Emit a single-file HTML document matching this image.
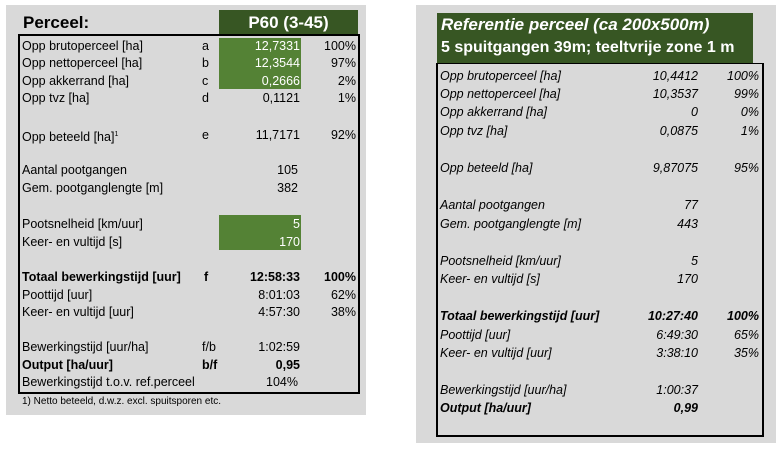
<!DOCTYPE html>
<html><head><meta charset="utf-8"><style>
body{margin:0;width:781px;height:449px;background:#fff;font-family:"Liberation Sans",sans-serif;position:relative;overflow:hidden;color:#000}
div{position:absolute}
.t{font-size:12.5px;line-height:14px;white-space:nowrap}
.r{text-align:right}
.b{font-weight:bold}
.i{font-style:italic}
.w{color:#fff}
</style></head><body>
<!-- LEFT -->
<div style="left:6px;top:5px;width:360px;height:410px;background:#d9d9d9"></div>
<div style="left:219px;top:10px;width:139px;height:25px;background:#375623"></div>
<div class="w b" style="left:219px;top:13px;width:139px;text-align:center;font-size:17px">P60 (3-45)</div>
<div class="b" style="left:23px;top:13px;font-size:17px">Perceel:</div>
<div style="left:219px;top:38px;width:82px;height:51px;background:#548235"></div>
<div style="left:219px;top:215px;width:82px;height:35px;background:#548235"></div>
<div style="left:18px;top:34px;width:338px;height:356px;border:2px solid #000"></div>

<div class="t" style="left:22px;top:39px">Opp brutoperceel [ha]</div><div class="t" style="left:202px;top:39px">a</div><div class="t r w" style="left:200px;width:100px;top:39px">12,7331</div><div class="t r" style="left:300px;width:56px;top:39px">100%</div>
<div class="t" style="left:22px;top:56px">Opp nettoperceel [ha]</div><div class="t" style="left:202px;top:56px">b</div><div class="t r w" style="left:200px;width:100px;top:56px">12,3544</div><div class="t r" style="left:300px;width:56px;top:56px">97%</div>
<div class="t" style="left:22px;top:74px">Opp akkerrand [ha]</div><div class="t" style="left:202px;top:74px">c</div><div class="t r w" style="left:200px;width:100px;top:74px">0,2666</div><div class="t r" style="left:300px;width:56px;top:74px">2%</div>
<div class="t" style="left:22px;top:91px">Opp tvz [ha]</div><div class="t" style="left:202px;top:91px">d</div><div class="t r" style="left:200px;width:100px;top:91px">0,1121</div><div class="t r" style="left:300px;width:56px;top:91px">1%</div>
<div class="t" style="left:22px;top:128px">Opp beteeld [ha]<sup style="font-size:7px">1</sup></div><div class="t" style="left:202px;top:128px">e</div><div class="t r" style="left:200px;width:100px;top:128px">11,7171</div><div class="t r" style="left:300px;width:56px;top:128px">92%</div>
<div class="t" style="left:22px;top:163px">Aantal pootgangen</div><div class="t r" style="left:200px;width:98px;top:163px">105</div>
<div class="t" style="left:22px;top:181px">Gem. pootganglengte [m]</div><div class="t r" style="left:200px;width:98px;top:181px">382</div>
<div class="t" style="left:22px;top:217px">Pootsnelheid [km/uur]</div><div class="t r w" style="left:200px;width:100px;top:217px">5</div>
<div class="t" style="left:22px;top:235px">Keer- en vultijd [s]</div><div class="t r w" style="left:200px;width:100px;top:235px">170</div>
<div class="t b" style="left:22px;top:270px">Totaal bewerkingstijd [uur]</div><div class="t b" style="left:204px;top:270px">f</div><div class="t r b" style="left:200px;width:100px;top:270px">12:58:33</div><div class="t r b" style="left:300px;width:56px;top:270px">100%</div>
<div class="t" style="left:22px;top:288px">Poottijd [uur]</div><div class="t r" style="left:200px;width:100px;top:288px">8:01:03</div><div class="t r" style="left:300px;width:56px;top:288px">62%</div>
<div class="t" style="left:22px;top:305px">Keer- en vultijd [uur]</div><div class="t r" style="left:200px;width:100px;top:305px">4:57:30</div><div class="t r" style="left:300px;width:56px;top:305px">38%</div>
<div class="t" style="left:22px;top:340px">Bewerkingstijd [uur/ha]</div><div class="t" style="left:202px;top:340px">f/b</div><div class="t r" style="left:200px;width:100px;top:340px">1:02:59</div>
<div class="t b" style="left:22px;top:358px">Output [ha/uur]</div><div class="t b" style="left:202px;top:358px">b/f</div><div class="t r b" style="left:200px;width:100px;top:358px">0,95</div>
<div class="t" style="left:22px;top:375px">Bewerkingstijd t.o.v. ref.perceel</div><div class="t r" style="left:200px;width:98px;top:375px">104%</div>
<div style="left:22px;top:396px;font-size:10px">1) Netto beteeld, d.w.z. excl. spuitsporen etc.</div>

<!-- RIGHT -->
<div style="left:416px;top:5px;width:360px;height:438px;background:#d9d9d9"></div>
<div style="left:437px;top:13px;width:316px;height:50px;background:#375623"></div>
<div class="w b i" style="left:441px;top:15px;font-size:17px">Referentie perceel (ca 200x500m)</div>
<div class="w b" style="left:441px;top:39px;font-size:16px">5 spuitgangen 39m; teeltvrije zone 1 m</div>
<div style="left:436px;top:63px;width:324px;height:371px;border:2px solid #000;border-top-width:1px"></div>
<div class="t i" style="left:440px;top:69px">Opp brutoperceel [ha]</div><div class="t r i" style="left:600px;width:98px;top:69px">10,4412</div><div class="t r i" style="left:700px;width:59px;top:69px">100%</div>
<div class="t i" style="left:440px;top:87px">Opp nettoperceel [ha]</div><div class="t r i" style="left:600px;width:98px;top:87px">10,3537</div><div class="t r i" style="left:700px;width:59px;top:87px">99%</div>
<div class="t i" style="left:440px;top:105px">Opp akkerrand [ha]</div><div class="t r i" style="left:600px;width:98px;top:105px">0</div><div class="t r i" style="left:700px;width:59px;top:105px">0%</div>
<div class="t i" style="left:440px;top:124px">Opp tvz [ha]</div><div class="t r i" style="left:600px;width:98px;top:124px">0,0875</div><div class="t r i" style="left:700px;width:59px;top:124px">1%</div>
<div class="t i" style="left:440px;top:161px">Opp beteeld [ha]</div><div class="t r i" style="left:600px;width:98px;top:161px">9,87075</div><div class="t r i" style="left:700px;width:59px;top:161px">95%</div>
<div class="t i" style="left:440px;top:198px">Aantal pootgangen</div><div class="t r i" style="left:600px;width:98px;top:198px">77</div>
<div class="t i" style="left:440px;top:217px">Gem. pootganglengte [m]</div><div class="t r i" style="left:600px;width:98px;top:217px">443</div>
<div class="t i" style="left:440px;top:254px">Pootsnelheid [km/uur]</div><div class="t r i" style="left:600px;width:98px;top:254px">5</div>
<div class="t i" style="left:440px;top:272px">Keer- en vultijd [s]</div><div class="t r i" style="left:600px;width:98px;top:272px">170</div>
<div class="t i b" style="left:440px;top:309px">Totaal bewerkingstijd [uur]</div><div class="t r i b" style="left:600px;width:98px;top:309px">10:27:40</div><div class="t r i b" style="left:700px;width:59px;top:309px">100%</div>
<div class="t i" style="left:440px;top:328px">Poottijd [uur]</div><div class="t r i" style="left:600px;width:98px;top:328px">6:49:30</div><div class="t r i" style="left:700px;width:59px;top:328px">65%</div>
<div class="t i" style="left:440px;top:346px">Keer- en vultijd [uur]</div><div class="t r i" style="left:600px;width:98px;top:346px">3:38:10</div><div class="t r i" style="left:700px;width:59px;top:346px">35%</div>
<div class="t i" style="left:440px;top:383px">Bewerkingstijd [uur/ha]</div><div class="t r i" style="left:600px;width:98px;top:383px">1:00:37</div>
<div class="t i b" style="left:440px;top:401px">Output [ha/uur]</div><div class="t r i b" style="left:600px;width:98px;top:401px">0,99</div>
</body></html>
